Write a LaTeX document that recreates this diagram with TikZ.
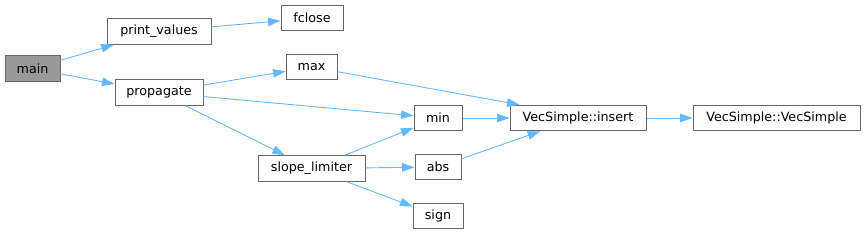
\documentclass[tikz,border=0pt]{standalone}
\usepackage{fontspec}
\setmainfont{DejaVu Sans}
\usetikzlibrary{arrows.meta}
\definecolor{edgeblue}{HTML}{63B8FF}
\definecolor{boxborder}{HTML}{666666}
\definecolor{mainfill}{HTML}{999999}
\begin{document}
\begin{tikzpicture}[x=1pt,y=-1pt,
  fn/.style={draw=boxborder, line width=1pt, fill=white, rectangle, inner sep=0pt,
    minimum height=25.5pt, font=\fontsize{12.7}{15}\selectfont, text=black},
  rootfn/.style={fn, fill=mainfill},
  call/.style={draw=edgeblue, line width=0.9pt,
    -{Triangle[length=12.5pt,width=8.5pt,fill=edgeblue]}}]
\useasboundingbox (0,0) rectangle (865,235);
\node[rootfn, minimum width=55pt]  (main)   at (32.5,68.5) {main};
\node[fn, minimum width=104pt] (pv)     at (159,31.5)  {print\_values};
\node[fn, minimum width=62pt]  (fclose) at (312,18)    {fclose};
\node[fn, minimum width=88pt]  (prop)   at (159,92.5)  {propagate};
\node[fn, minimum width=51pt]  (max)    at (311.5,67)  {max};
\node[fn, minimum width=48pt]  (min)    at (438,118)   {min};
\node[fn, minimum width=136pt] (ins)    at (578,118)   {VecSimple::insert};
\node[fn, minimum width=167pt] (vs)     at (776.5,118) {VecSimple::VecSimple};
\node[fn, minimum width=107pt] (sl)     at (311.5,168.5) {slope\_limiter};
\node[fn, minimum width=46pt]  (abs)    at (438,167)   {abs};
\node[fn, minimum width=50pt]  (sign)   at (438,216)   {sign};

\draw[call] (main) -- (pv);
\draw[call] (main) -- (prop);
\draw[call] (pv) -- (fclose);
\draw[call] (prop) -- (max);
\draw[call] (prop) -- (min);
\draw[call] (prop) -- (sl);
\draw[call] (max) -- ([xshift=10pt]ins.north west);
\draw[call] (min) -- (ins);
\draw[call] (sl) -- (min);
\draw[call] (sl) -- (abs);
\draw[call] (sl) -- (sign);
\draw[call] (abs) -- (ins);
\draw[call] (ins) -- (vs);
\end{tikzpicture}
\end{document}
